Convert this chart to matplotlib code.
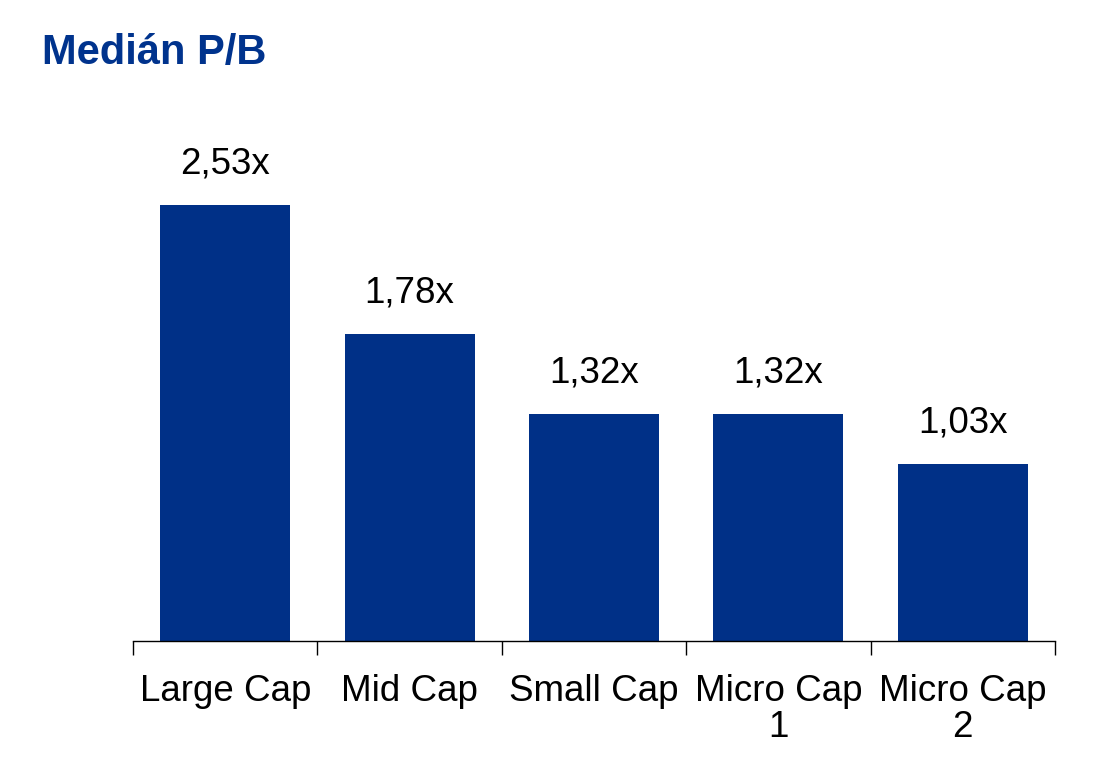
import matplotlib
matplotlib.use('Agg')
from matplotlib import pyplot as plt

categories = ['Large Cap', 'Mid Cap', 'Small Cap', 'Micro Cap\n1', 'Micro Cap\n2']
pb_values = [2.53, 1.78, 1.32, 1.32, 1.03]
value_labels = ['2,53x', '1,78x', '1,32x', '1,32x', '1,03x']

navy = '#003087'
plt.rcParams['font.family'] = ['Liberation Sans', 'DejaVu Sans']

fig = plt.figure(figsize=(10.95, 7.8), dpi=100)
ax = fig.add_axes([0.1215, 0.178, 0.842, 0.6936])

x = range(len(categories))
bars = ax.bar(x, pb_values, width=0.705, color=navy)
for rect, lab in zip(bars, value_labels):
    ax.annotate(lab, (rect.get_x() + rect.get_width() / 2, rect.get_height()),
                xytext=(0, 17), textcoords='offset points',
                ha='center', va='bottom', fontsize=26.5)

ax.set_xlim(-0.5, len(categories) - 0.5)
ax.set_ylim(0, 3.14)
ax.set_xticks(list(x))
ax.set_xticklabels(categories, fontsize=26.5, linespacing=1.05)
ax.set_xticks([i - 0.5 for i in range(len(categories) + 1)], minor=True)
ax.tick_params(axis='x', which='major', length=0, pad=23.5)
ax.tick_params(axis='x', which='minor', length=10, width=1, direction='out')
ax.set_yticks([])
for side in ['top', 'right', 'left']:
    ax.spines[side].set_visible(False)
ax.spines['bottom'].set_linewidth(1)

fig.text(42 / 1095, 1 - 64 / 780, 'Medián P/B', color='#00338D',
         fontsize=30, fontweight='bold', ha='left', va='baseline')

fig.savefig('out.png', dpi=100)
